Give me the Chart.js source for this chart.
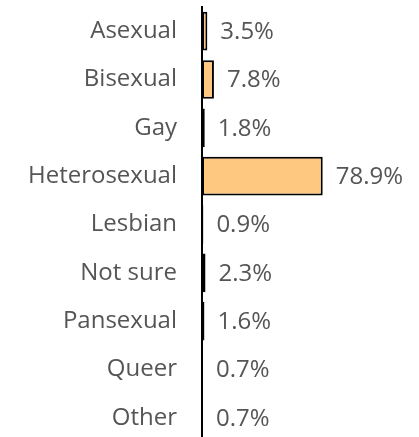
<!DOCTYPE html>
<html>
<head>
<meta charset="utf-8">
<script src="https://cdn.jsdelivr.net/npm/chart.js@4/dist/chart.umd.min.js"></script>
<style>
html,body{margin:0;padding:0;background:#fff;overflow:hidden;}
#wrap{width:419px;height:442px;position:relative;}
</style>
</head>
<body>
<div id="wrap"><canvas id="c" width="419" height="442"></canvas></div>
<script>
const categories = ["Asexual","Bisexual","Gay","Heterosexual","Lesbian","Not sure","Pansexual","Queer","Other"];
const shares = [3.5, 7.8, 1.8, 78.9, 0.9, 2.3, 1.6, 0.7, 0.7];
const valueLabels = ["3.5%","7.8%","1.8%","78.9%","0.9%","2.3%","1.6%","0.7%","0.7%"];

const FONT = "'Open Sans', sans-serif";
const TEXT = "#555555";

const valuePlugin = {
  id: 'valueLabels',
  afterDatasetsDraw(chart) {
    const ctx = chart.ctx;
    const meta = chart.getDatasetMeta(0);
    ctx.save();
    ctx.font = "24px " + FONT;
    ctx.fillStyle = TEXT;
    ctx.textAlign = 'left';
    ctx.textBaseline = 'middle';
    meta.data.forEach((bar, i) => {
      ctx.fillText(valueLabels[i], bar.x + 13, bar.y + 1);
    });
    ctx.restore();
  }
};

new Chart(document.getElementById('c'), {
  type: 'bar',
  data: {
    labels: categories,
    datasets: [{
      data: shares,
      backgroundColor: '#FFC880',
      borderColor: '#000000',
      borderWidth: 2,
      borderSkipped: false,
      barPercentage: 0.8,
      categoryPercentage: 1.0
    }]
  },
  options: {
    indexAxis: 'y',
    responsive: false,
    animation: false,
    events: [],
    layout: { padding: { top: 7, right: 64, left: 0, bottom: 0 } },
    plugins: { legend: { display: false }, tooltip: { enabled: false } },
    scales: {
      x: {
        display: false,
        min: 0,
        max: 100
      },
      y: {
        grid: { display: false, drawTicks: false },
        border: { display: true, color: '#000000', width: 2 },
        ticks: {
          color: TEXT,
          padding: 25,
          font: { family: FONT, size: 24 }
        },
        afterFit(scale) {
          scale.width = 202;
          scale.paddingTop = 0;
          scale.paddingBottom = 0;
        }
      }
    }
  },
  plugins: [valuePlugin]
});
</script>
</body>
</html>
